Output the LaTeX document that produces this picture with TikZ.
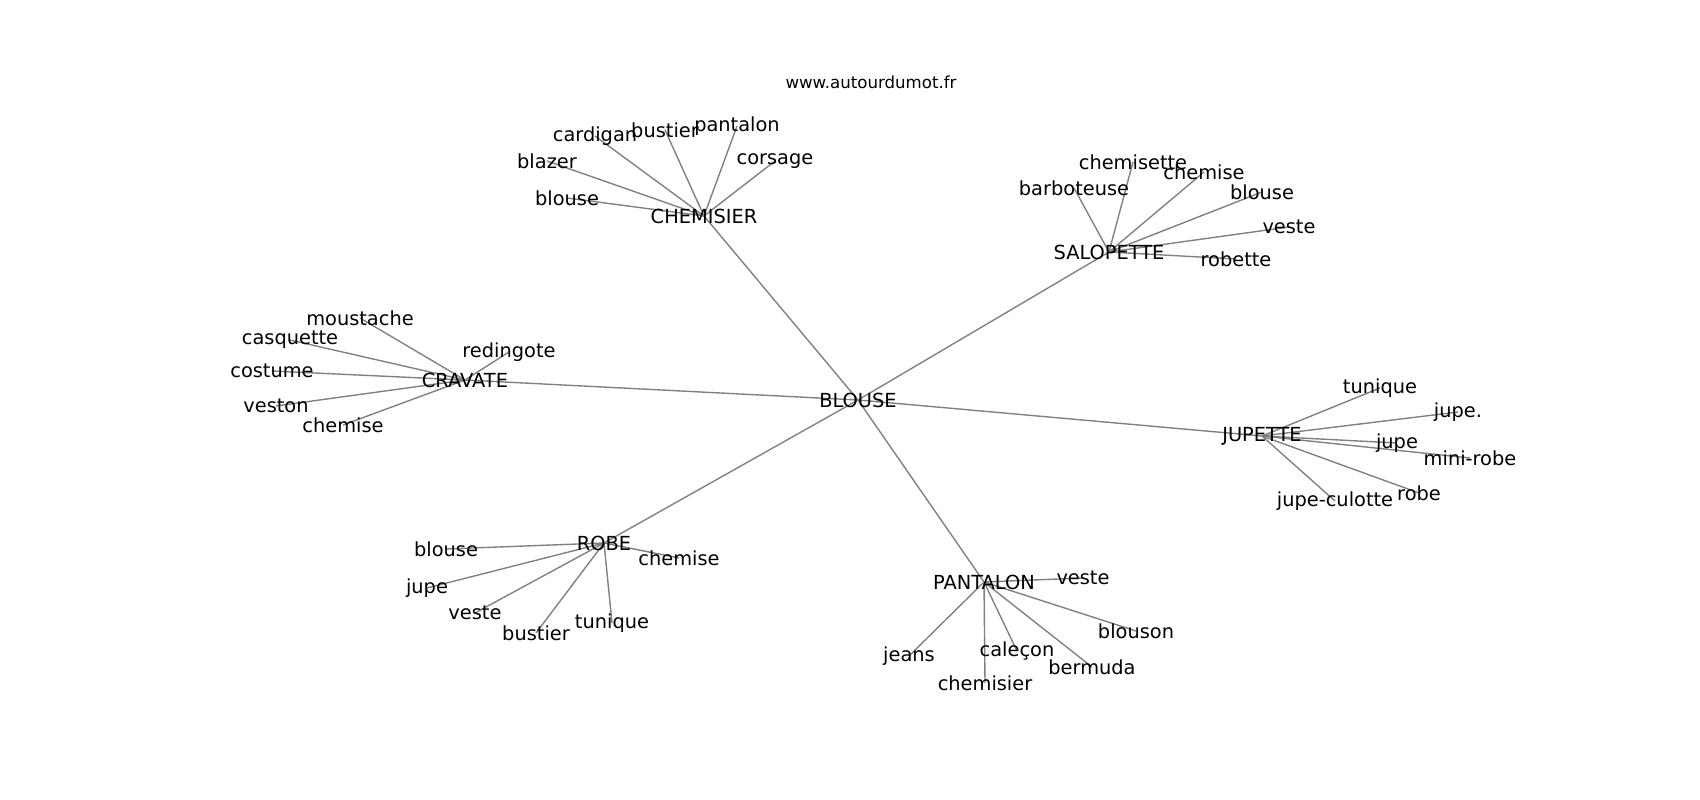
\documentclass[tikz,border=0pt]{standalone}
\usepackage{fontspec}
\setmainfont{DejaVu Sans}
\usetikzlibrary{backgrounds}
\tikzset{
    x=0.01in, y=-0.01in % pixel grid of the figure
}
\tikzstyle{every node}=[
    inner sep = 0cm,
    font = \fontsize{14}{16}\selectfont
]
\tikzstyle{link}=[draw, gray, line width = 1pt]

\begin{document}
\begin{tikzpicture}
    \useasboundingbox (0,0) rectangle (1700,800);

    \node (title) at (871,82) {\fontsize{12}{14}\selectfont www.autourdumot.fr};

    \node (blouse) at (858,400) {BLOUSE};

    \node (chemisier) at (704,216) {CHEMISIER};
    \node (ch1) at (595,136) {cardigan};
    \node (ch2) at (665,130) {bustier};
    \node (ch3) at (737,126) {pantalon};
    \node (ch4) at (775,161) {corsage};
    \node (ch5) at (547,161) {blazer};
    \node (ch6) at (567,198) {blouse};

    \node (salopette) at (1109,252) {SALOPETTE};
    \node (sa1) at (1133,162) {chemisette};
    \node (sa2) at (1204,172) {chemise};
    \node (sa3) at (1074,188) {barboteuse};
    \node (sa4) at (1262,192) {blouse};
    \node (sa5) at (1289,227) {veste};
    \node (sa6) at (1236,259) {robette};

    \node (cravate) at (465,380) {CRAVATE};
    \node (cr1) at (360,318) {moustache};
    \node (cr2) at (290,340) {casquette};
    \node (cr3) at (272,371) {costume};
    \node (cr4) at (276,406) {veston};
    \node (cr5) at (343,425) {chemise};
    \node (cr6) at (509,352) {redingote};

    \node (jupette) at (1262,436) {JUPETTE};
    \node (ju1) at (1380,388) {tunique};
    \node (ju2) at (1458,412) {jupe.};
    \node (ju3) at (1397,443) {jupe};
    \node (ju4) at (1470,458) {mini-robe};
    \node (ju5) at (1419,493) {robe};
    \node (ju6) at (1335,501) {jupe-culotte};

    \node (robe) at (604,543) {ROBE};
    \node (ro1) at (446,549) {blouse};
    \node (ro2) at (427,588) {jupe};
    \node (ro3) at (475,613) {veste};
    \node (ro4) at (536,633) {bustier};
    \node (ro5) at (612,623) {tunique};
    \node (ro6) at (679,558) {chemise};

    \node (pantalon) at (984,582) {PANTALON};
    \node (pa1) at (1083,578) {veste};
    \node (pa2) at (1136,631) {blouson};
    \node (pa3) at (909,656) {jeans};
    \node (pa4) at (1017,651) {caleçon};
    \node (pa5) at (985,683) {chemisier};
    \node (pa6) at (1092,667) {bermuda};

    \begin{pgfonlayer}{background}
        \foreach \hub in {chemisier, salopette, cravate, jupette, robe, pantalon}
            \draw [link] (blouse.center) -- (\hub.center);
        \foreach \leaf in {1,...,6} {
            \draw [link] (chemisier.center) -- (ch\leaf.center);
            \draw [link] (salopette.center) -- (sa\leaf.center);
            \draw [link] (cravate.center) -- (cr\leaf.center);
            \draw [link] (jupette.center) -- (ju\leaf.center);
            \draw [link] (robe.center) -- (ro\leaf.center);
            \draw [link] (pantalon.center) -- (pa\leaf.center);
        }
    \end{pgfonlayer}
\end{tikzpicture}
\end{document}
